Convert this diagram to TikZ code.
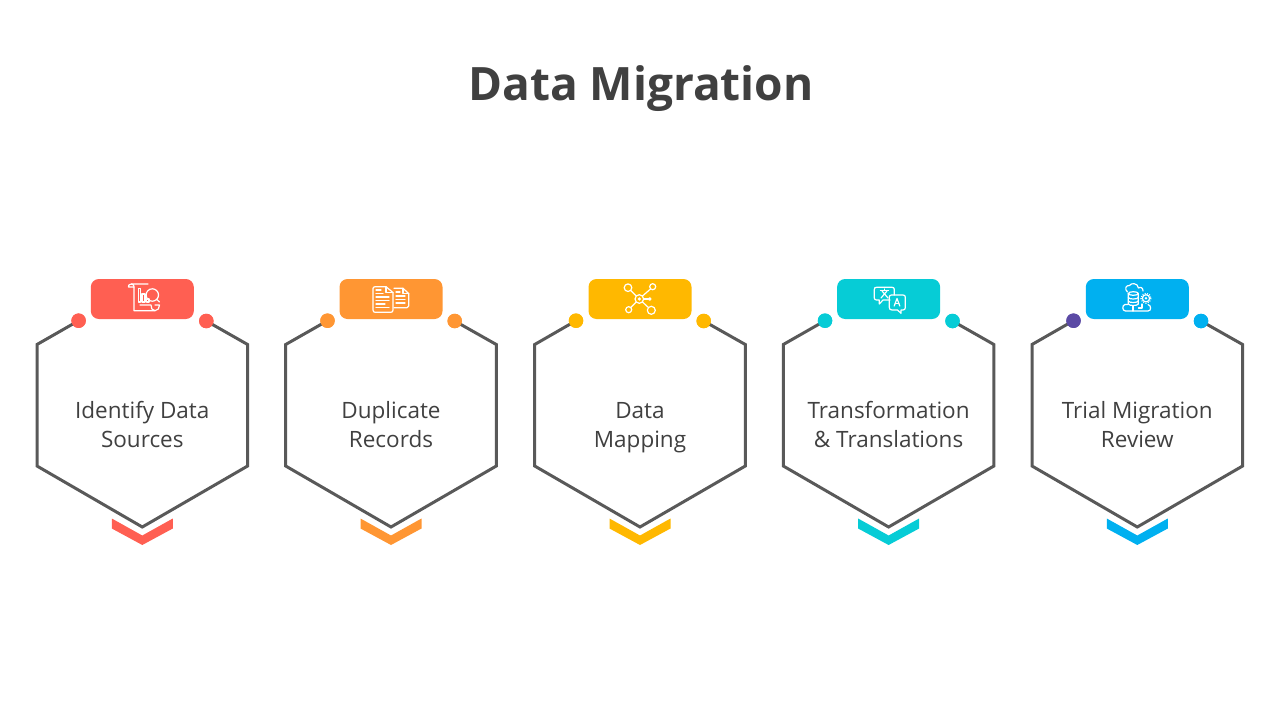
\documentclass[tikz,border=0pt]{standalone}
\usepackage{fontspec}
\setmainfont{Open Sans}
\definecolor{cred}{HTML}{FF5F52}
\definecolor{corange}{HTML}{FF9633}
\definecolor{cyellow}{HTML}{FFB800}
\definecolor{cteal}{HTML}{06CCD6}
\definecolor{cblue}{HTML}{00B0F0}
\definecolor{cpurple}{HTML}{5B4AA5}
\definecolor{ink}{HTML}{404040}
\definecolor{hexline}{HTML}{595959}
\tikzset{
  hexpath/.style={draw=hexline,line width=3pt,line join=miter},
  tab/.style={rectangle,rounded corners=8pt,minimum width=103pt,minimum height=40pt,inner sep=0pt},
  knob/.style={circle,minimum size=14.5pt,inner sep=0pt},
  hextext/.style={text=ink,align=center,font=\fontsize{22.5pt}{29pt}\selectfont},
  icon/.style={draw=white,line width=1.2pt,line join=round,line cap=round},
}
\newcommand{\hexblock}[7]{%
  \coordinate (#1tl) at (#2-105.3,344.5);
  \coordinate (#1bl) at (#2-105.3,466);
  \coordinate (#1b) at (#2,527);
  \coordinate (#1br) at (#2+105.3,466);
  \coordinate (#1tr) at (#2+105.3,344.5);
  \node[knob,fill=#4] (#1kl) at (#2+#5,320.7) {};
  \node[knob,fill=#3] (#1kr) at (#2+#6,321) {};
  \draw[hexpath] (#1kl.center) -- (#1tl) -- (#1bl) -- (#1b) -- (#1br) -- (#1tr) -- (#1kr.center);
  \node[knob,fill=#4] at (#1kl) {};
  \node[knob,fill=#3] at (#1kr) {};
  \node[tab,fill=#3] (#1tab) at (#2,299) {};
  \fill[#3] (#2-30.5,518.5) -- (#2,535.5) -- (#2+30.5,518.5) -- (#2+30.5,528.5) -- (#2,545) -- (#2-30.5,528.5) -- cycle;
  \node[hextext] (#1txt) at (#2,427.5) {#7};
}
\begin{document}
\begin{tikzpicture}[x=1pt,y=-1pt]
\useasboundingbox (0,0) rectangle (1280,720);
\node[text=ink,anchor=base,font=\fontsize{46pt}{50pt}\selectfont\bfseries] (title) at (641,100.5) {Data Migration};
\hexblock{a}{142.3}{cred}{cred}{-63.7}{64}{\strut Identify Data\\\strut Sources}
\hexblock{b}{391}{corange}{corange}{-63.5}{63.7}{\strut Duplicate\\\strut Records}
\hexblock{c}{640}{cyellow}{cyellow}{-64}{63.7}{\strut Data\\\strut Mapping}
\hexblock{d}{888.6}{cteal}{cteal}{-63.6}{63.9}{\strut Transformation\\\strut \& Translations}
\hexblock{e}{1137.3}{cblue}{cpurple}{-63.8}{63.7}{\strut Trial Migration\\\strut Review}
% icon 1: scroll and magnifier
\draw[icon] (148,284) -- (131.5,284) .. controls (129,284) and (128,285.5) .. (128.5,287) -- (134,287) -- (134,310.7) -- (155,310.7) .. controls (158,310.7) and (159.5,308) .. (159.5,305) -- (155,305);
\draw[icon] (131.5,284) .. controls (133.5,284) and (134,285.5) .. (134,287);
\draw[icon] (155,310.7) .. controls (152,310.7) and (151,308) .. (151,305) -- (140,305);
\draw[icon] (138.3,288.5) rectangle (140.3,302);
\draw[icon] (142,294) rectangle (145,302);
\draw[icon] (146.5,299) rectangle (149,302);
\draw[icon] (152.3,295) circle (6.2);
\draw[icon] (156.8,299.5) -- (159.5,302);
% icon 2: two documents
\draw[icon] (373,288.5) .. controls (373,287.5) and (374,286.7) .. (375,286.7) -- (386,286.7) -- (393,292.5) -- (393,310) .. controls (393,311.5) and (392,312.3) .. (391,312.3) -- (375,312.3) .. controls (374,312.3) and (373,311.5) .. (373,310) -- cycle;
\draw[icon] (386,286.7) -- (386,292.5) -- (393,292.5);
\draw[icon] (394,288.3) -- (403,288.3) -- (408.7,293.5) -- (408.7,306) .. controls (408.7,307) and (408,307.7) .. (407,307.7) -- (394,307.7);
\draw[icon] (403,288.3) -- (403,293.5) -- (408.7,293.5);
\foreach \yy/\xa/\xb in {290/376/381,293.5/376/383,297/376/389,300.5/376/389,304/376/385,307.5/376/389}{\draw[icon] (\xa,\yy) -- (\xb,\yy);}
\foreach \yy/\xa/\xb in {292/396/400,296/396/405,299.5/396/405,303/396/405}{\draw[icon] (\xa,\yy) -- (\xb,\yy);}
% icon 3: network
\draw[icon] (628,287.7) circle (3.8);
\draw[icon] (652.7,286.7) circle (3);
\draw[icon] (639.3,299) circle (4.3);
\fill[white] (639.3,299) circle (1.8);
\draw[icon] (649.7,299) circle (1.3);
\draw[icon] (628.7,309.7) circle (3);
\draw[icon] (651.3,310.3) circle (4);
\draw[icon] (630.7,290.5) -- (636.3,296);
\draw[icon] (650.5,289) -- (642.5,296);
\draw[icon] (643.6,299) -- (648.4,299);
\draw[icon] (630.8,307.5) -- (636.2,302);
\draw[icon] (642.5,302) -- (648.4,307.5);
% icon 4: translation bubbles
\draw[icon] (890,300) -- (883,300) -- (879.3,304) -- (879.3,300) -- (876.5,300) .. controls (875,300) and (874.3,299) .. (874.3,298) -- (874.3,289.5) .. controls (874.3,288) and (875,287.3) .. (876.5,287.3) -- (892,287.3) .. controls (893.5,287.3) and (894.3,288) .. (894.3,289.5) -- (894.3,295);
\draw[icon] (891.5,295) -- (903,295) .. controls (904.5,295) and (905.3,296) .. (905.3,297) -- (905.3,307.5) .. controls (905.3,309) and (904.5,310) .. (903,310) -- (901,310) -- (901,313.3) -- (897.5,310) -- (892,310) .. controls (890,310) and (889.3,309) .. (889.3,307.5) -- (889.3,297) .. controls (889.3,296) and (890,295) .. (891.5,295);
\draw[icon] (880.5,290.5) -- (888.5,290.5);
\draw[icon] (884.5,289) -- (884.5,290.5);
\draw[icon] (887,291) -- (881,298);
\draw[icon] (882,291) -- (888,298);
\draw[icon] (894.2,306) -- (897,298.5) -- (899.8,306);
\draw[icon] (895.2,303.5) -- (898.8,303.5);
% icon 5: cloud, database, gear
\draw[icon] (1128,304.5) -- (1125,304.5) .. controls (1122,305) and (1122,311) .. (1125.5,311) -- (1148,311) .. controls (1151.5,311) and (1151.5,305.5) .. (1148,304.5);
\draw[icon] (1127.5,292) .. controls (1124,289) and (1126,285) .. (1129.5,285.5) .. controls (1131,282.5) and (1138,283) .. (1138.5,288) .. controls (1141,286.5) and (1143,288) .. (1143,291);
\draw[icon] (1128.3,293.5) -- (1128.3,304) .. controls (1129,306) and (1137.5,306) .. (1138.3,304) -- (1138.3,293.5);
\draw[icon] (1133.3,293.5) ellipse (5 and 1.8);
\draw[icon] (1128.3,297.5) .. controls (1129,299.5) and (1137.5,299.5) .. (1138.3,297.5);
\draw[icon] (1128.3,301) .. controls (1129,303) and (1137.5,303) .. (1138.3,301);
\draw[icon] (1146,298.3) circle (3.6);
\fill[white] (1146,298.3) circle (1.4);
\draw[icon,dash pattern=on 1pt off 1.4pt,line cap=butt,line width=1.3pt] (1146,298.3) circle (5);
\draw[icon] (1133,306) -- (1133,311);
\draw[icon] (1138.5,308) -- (1142,308) -- (1142,304);
\end{tikzpicture}
\end{document}
